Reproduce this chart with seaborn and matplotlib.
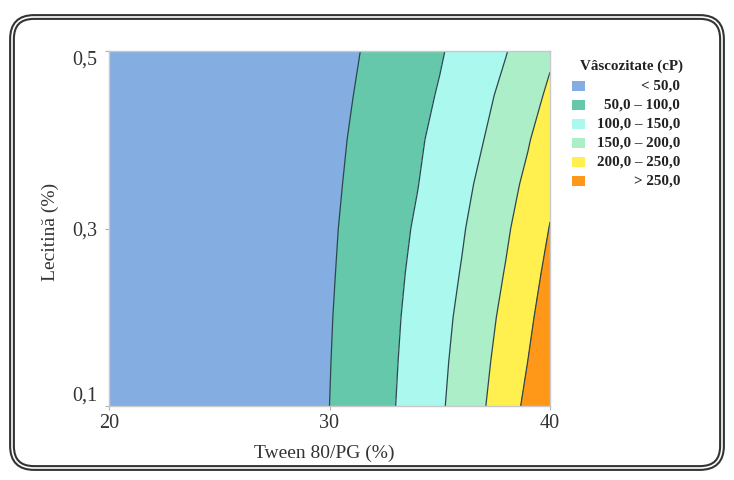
import numpy as np
import pandas as pd
import seaborn as sns
import matplotlib
matplotlib.use("Agg")
import matplotlib.pyplot as plt
from matplotlib.patches import FancyBboxPatch, Rectangle

# ---- data ----
tween = [20, 25, 28, 29, 30, 31, 32, 33, 34, 35, 36, 37, 38, 39, 40]
lecitina = [0.10, 0.15, 0.20, 0.25, 0.30, 0.35, 0.40, 0.45, 0.50]
visc_010 = [5.0, 15.0, 30.0, 38.0, 50.0, 66.7, 83.3, 100.0, 121.7, 143.5, 169.4, 197.2, 228.1, 260.8, 296.8]
visc_015 = [5.0, 14.5, 28.0, 37.2, 48.9, 65.1, 81.4, 97.7, 118.5, 140.1, 164.4, 191.0, 220.0, 250.4, 285.4]
visc_020 = [5.0, 14.0, 26.0, 36.2, 47.6, 63.5, 79.4, 95.2, 114.9, 136.2, 159.0, 184.6, 211.8, 241.2, 273.1]
visc_025 = [4.5, 13.0, 25.0, 34.8, 45.8, 61.3, 76.7, 92.1, 110.2, 131.0, 152.3, 177.3, 202.6, 231.9, 262.2]
visc_030 = [4.0, 12.0, 24.0, 33.2, 44.0, 59.0, 73.9, 88.8, 105.1, 125.5, 145.9, 169.5, 193.9, 222.1, 251.6]
visc_035 = [3.5, 11.0, 22.5, 30.9, 41.5, 55.9, 70.3, 84.7, 99.1, 118.6, 138.5, 160.0, 183.8, 209.9, 240.7]
visc_040 = [3.0, 10.0, 21.0, 28.4, 38.9, 52.8, 66.7, 80.6, 94.4, 111.5, 130.8, 150.0, 173.3, 196.5, 227.5]
visc_045 = [2.5, 9.0, 19.0, 27.1, 35.6, 48.9, 62.3, 75.6, 88.9, 103.2, 121.8, 140.3, 161.0, 184.0, 207.5]
visc_050 = [2.0, 8.0, 17.0, 23.6, 32.1, 44.9, 57.7, 70.5, 83.3, 96.2, 112.5, 130.4, 148.2, 170.5, 193.2]

levels = [0, 50, 100, 150, 200, 250, 400]
level_labels = ["< 50,0", "50,0 \u2013 100,0", "100,0 \u2013 150,0",
                "150,0 \u2013 200,0", "200,0 \u2013 250,0", "> 250,0"]
level_colors = ["#84ADE1", "#66C8AA", "#AAF8EE", "#ACEEC8", "#FFF050", "#FF9818"]
xticks = [20, 30, 40]
yticks = [0.1, 0.3, 0.5]
ytick_labels = ["0,1", "0,3", "0,5"]

df = pd.DataFrame([visc_010, visc_015, visc_020, visc_025, visc_030,
                   visc_035, visc_040, visc_045, visc_050],
                  index=lecitina, columns=tween)

sns.set_theme(style="white")
plt.rcParams['font.family'] = ['Liberation Serif', 'DejaVu Serif']

fig = plt.figure(figsize=(7.34, 4.8), dpi=100)
ax = fig.add_axes([109/734, 1-406/480, 441/734, 355/480])

X, Y = np.meshgrid(df.columns.values, df.index.values)
Z = df.values
ax.contourf(X, Y, Z, levels=levels, colors=level_colors)
ax.contour(X, Y, Z, levels=levels[1:-1], colors="#2d4650", linewidths=0.9)

ax.set_xlim(20, 40)
ax.set_ylim(0.1, 0.5)
ax.set_xticks(xticks)
ax.set_xticklabels([str(v) for v in xticks])
ax.set_yticks(yticks)
ax.set_yticklabels(ytick_labels)
ax.tick_params(axis='both', labelsize=14.5, colors="#b0b0b0", labelcolor="#333333",
               length=3, width=0.8, direction='out', bottom=True, left=True)
ax.tick_params(axis='y', pad=5.5)
ax.tick_params(axis='x', pad=3)
ylabs = ax.get_yticklabels()
ylabs[0].set_va('bottom')
ylabs[-1].set_va('top')
for s in ax.spines.values():
    s.set_color("#c8c8c8")
    s.set_linewidth(1.0)

ax.set_xlabel("Tween 80/PG (%)", fontsize=14, color="#333333")
ax.xaxis.set_label_coords((324-109)/441, -(453-406)/355)
ax.xaxis.label.set_va('center')
ax.set_ylabel("Lecitin\u0103 (%)", fontsize=14, color="#333333")
ax.yaxis.label.set_va('center')
ax.yaxis.set_label_coords(-(109-50)/441, 0.49)

# legend (manual, right-aligned labels)
fig.text(632/734, 1-66/480, "V\u00e2scozitate (cP)", ha='center', va='center',
         fontsize=10.8, fontweight='bold', color="#222222")
for i, (lab, col) in enumerate(zip(level_labels, level_colors)):
    yc = 86 + i*19
    fig.add_artist(Rectangle((572/734, 1-(yc+5)/480), 13/734, 10/480,
                             transform=fig.transFigure, facecolor=col, edgecolor='none'))
    fig.text(680/734, 1-yc/480, lab, ha='right', va='center', fontsize=10.8,
             fontweight='bold', color="#222222")

# rounded double border
for lw, c in [(4.2, "#333333"), (1.2, "white")]:
    fig.add_artist(FancyBboxPatch((12, 12), 710, 451,
                                  boxstyle="round,pad=0,rounding_size=22",
                                  transform=None, facecolor='none', edgecolor=c,
                                  linewidth=lw))

fig.savefig("out.png", dpi=100)
